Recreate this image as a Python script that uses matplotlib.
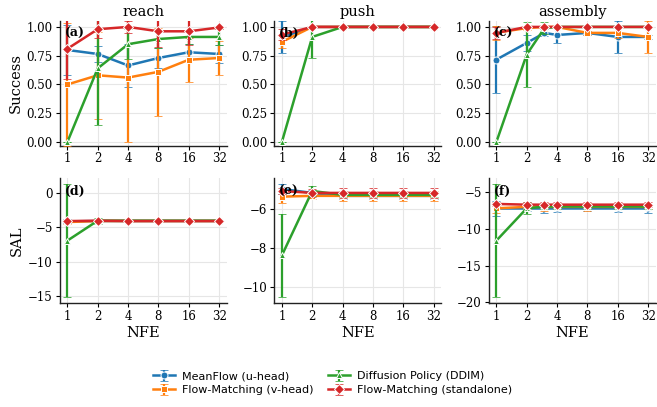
import numpy as np
import matplotlib
matplotlib.use("Agg")
import matplotlib.pyplot as plt
from matplotlib.ticker import FixedLocator, FixedFormatter, NullLocator

methods = ["MeanFlow (u-head)", "Flow-Matching (v-head)",
           "Diffusion Policy (DDIM)", "Flow-Matching (standalone)"]
colors = ["#1f77b4", "#ff7f0e", "#2ca02c", "#d62728"]
markers = ["o", "s", "^", "D"]

nfe = [1, 2, 4, 8, 16, 32]
nfe_asm = [1, 2, 3, 4, 8, 16, 32]
nfe_ticks = [1, 2, 4, 8, 16, 32]

# success rate, mean / std  (rows: methods in order above)
reach_succ = [[0.80, 0.765, 0.665, 0.73, 0.78, 0.765],
              [0.50, 0.58, 0.56, 0.61, 0.715, 0.73],
              [0.00, 0.64, 0.85, 0.895, 0.913, 0.913],
              [0.81, 0.98, 1.00, 0.962, 0.962, 0.995]]
reach_succ_err = [[0.22, 0.07, 0.19, 0.085, 0.07, 0.075],
                  [0.53, 0.38, 0.56, 0.38, 0.19, 0.145],
                  [0.00, 0.49, 0.13, 0.08, 0.06, 0.07],
                  [0.26, 0.08, 0.05, 0.14, 0.12, 0.01]]

push_succ = [[0.91, 1.0, 1.0, 1.0, 1.0, 1.0],
             [0.87, 1.0, 1.0, 1.0, 1.0, 1.0],
             [0.00, 0.913, 1.0, 1.0, 1.0, 1.0],
             [0.933, 1.0, 1.0, 1.0, 1.0, 1.0]]
push_succ_err = [[0.14, 0.0, 0.0, 0.0, 0.0, 0.0],
                 [0.05, 0.0, 0.0, 0.0, 0.0, 0.0],
                 [0.00, 0.18, 0.0, 0.0, 0.0, 0.0],
                 [0.05, 0.0, 0.0, 0.0, 0.0, 0.0]]

asm_succ = [[0.716, 0.861, 0.948, 0.93, 0.948, 0.913, 0.913],
            [0.95, 0.99, 1.0, 1.0, 0.948, 0.948, 0.913],
            [0.00, 0.76, 0.99, 1.0, 1.0, 1.0, 1.0],
            [0.948, 1.0, 1.0, 1.0, 1.0, 1.0, 1.0]]
asm_succ_err = [[0.29, 0.07, 0.03, 0.07, 0.02, 0.14, 0.02],
                [0.06, 0.02, 0.0, 0.0, 0.02, 0.04, 0.14],
                [0.00, 0.28, 0.05, 0.0, 0.0, 0.0, 0.0],
                [0.05, 0.0, 0.0, 0.0, 0.0, 0.0, 0.0]]

# SAL, mean / std
reach_sal = [[-4.1, -4.05, -4.05, -4.05, -4.05, -4.05],
             [-4.2, -4.05, -4.05, -4.05, -4.05, -4.05],
             [-6.93, -4.0, -4.0, -4.0, -4.0, -4.0],
             [-4.06, -4.0, -4.05, -4.05, -4.05, -4.05]]
reach_sal_err = [[0.3, 0.2, 0.2, 0.2, 0.2, 0.2],
                 [0.3, 0.2, 0.2, 0.2, 0.2, 0.2],
                 [8.3, 0.45, 0.1, 0.1, 0.1, 0.1],
                 [0.2, 0.15, 0.15, 0.15, 0.15, 0.15]]

push_sal = [[-5.0, -5.2, -5.35, -5.35, -5.35, -5.35],
            [-5.39, -5.35, -5.35, -5.35, -5.35, -5.35],
            [-8.4, -5.1, -5.3, -5.3, -5.3, -5.3],
            [-5.1, -5.2, -5.2, -5.2, -5.2, -5.2]]
push_sal_err = [[0.25, 0.15, 0.15, 0.15, 0.15, 0.15],
                [0.35, 0.15, 0.25, 0.25, 0.25, 0.25],
                [2.13, 0.25, 0.1, 0.1, 0.1, 0.1],
                [0.15, 0.2, 0.25, 0.25, 0.25, 0.25]]

asm_sal = [[-7.2, -7.2, -7.2, -7.2, -7.2, -7.2, -7.2],
           [-7.2, -7.0, -7.0, -7.0, -7.0, -7.0, -7.0],
           [-11.6, -7.2, -6.95, -6.95, -6.95, -6.95, -6.95],
           [-6.6, -6.7, -6.7, -6.7, -6.7, -6.7, -6.7]]
asm_sal_err = [[1.05, 0.4, 0.6, 0.5, 0.4, 0.5, 0.6],
               [0.7, 0.3, 0.5, 0.3, 0.5, 0.3, 0.3],
               [7.7, 0.8, 0.3, 0.3, 0.3, 0.3, 0.3],
               [0.3, 0.3, 0.3, 0.3, 0.3, 0.3, 0.3]]

tasks = ["reach", "push", "assembly"]
panels = [
    (nfe, reach_succ, reach_succ_err), (nfe, push_succ, push_succ_err), (nfe_asm, asm_succ, asm_succ_err),
    (nfe, reach_sal, reach_sal_err), (nfe, push_sal, push_sal_err), (nfe_asm, asm_sal, asm_sal_err),
]
letters = ["(a)", "(b)", "(c)", "(d)", "(e)", "(f)"]

plt.rcParams["font.family"] = ["DejaVu Serif"]
plt.rcParams["axes.unicode_minus"] = True

fig, axes = plt.subplots(2, 3, figsize=(6.57, 4.07), dpi=100)
fig.subplots_adjust(left=0.091, right=0.998, bottom=0.256, top=0.948,
                    wspace=0.285, hspace=0.265)

handles = []
for i, ax in enumerate(axes.flat):
    xs, means, errs = panels[i]
    ax.set_xscale("log", base=2)
    for k in range(4):
        h = ax.errorbar(xs, means[k], yerr=errs[k], color=colors[k], marker=markers[k],
                        markersize=5 if markers[k] != "D" else 5.5,
                        markeredgecolor="white", markeredgewidth=0.7,
                        linewidth=1.8, elinewidth=1.6, capsize=3, capthick=1.2,
                        label=methods[k], zorder=2 + k)
        for c in h[1]:
            c.set_alpha(0.75)
        if i == 0:
            handles.append(h)
    ax.xaxis.set_major_locator(FixedLocator(nfe_ticks))
    ax.xaxis.set_major_formatter(FixedFormatter([str(t) for t in nfe_ticks]))
    ax.xaxis.set_minor_locator(NullLocator())
    ax.grid(True, color="#e6e6e6", linewidth=0.8, zorder=0)
    ax.set_axisbelow(True)
    for s in ["top", "right"]:
        ax.spines[s].set_visible(False)
    for s in ["left", "bottom"]:
        ax.spines[s].set_linewidth(1.0)
        ax.spines[s].set_color("#222222")
    ax.tick_params(labelsize=8.5, length=3, width=0.8, pad=2)
    ax.text(0.03, 0.95, letters[i], transform=ax.transAxes, fontsize=9,
            fontweight="bold", ha="left", va="top", zorder=10)
    if i < 3:
        ax.set_ylim(-0.03, 1.05)
        ax.set_yticks([0.0, 0.25, 0.5, 0.75, 1.0])
        ax.set_yticklabels(["0.00", "0.25", "0.50", "0.75", "1.00"])
        ax.set_title(tasks[i], fontsize=10.5, pad=4)
    else:
        ax.set_xlabel("NFE", fontsize=10.5, labelpad=2)

axes[0, 0].set_ylabel("Success", fontsize=10.5, labelpad=3)
axes[1, 0].set_ylabel("SAL", fontsize=10.5, labelpad=3)
axes[1, 0].set_yticks([0, -5, -10, -15])
axes[1, 1].set_yticks([-6, -8, -10])
axes[1, 2].set_yticks([-5, -10, -15, -20])

fig.legend(handles, methods, loc="upper center", ncol=2, frameon=False,
           prop={"family": "DejaVu Sans", "size": 8},
           bbox_to_anchor=(0.506, 0.088), handlelength=2.0,
           columnspacing=1.3, handletextpad=0.6, labelspacing=0.35,
           borderaxespad=0.0, borderpad=0.0)

fig.savefig("out.png", dpi=100)
